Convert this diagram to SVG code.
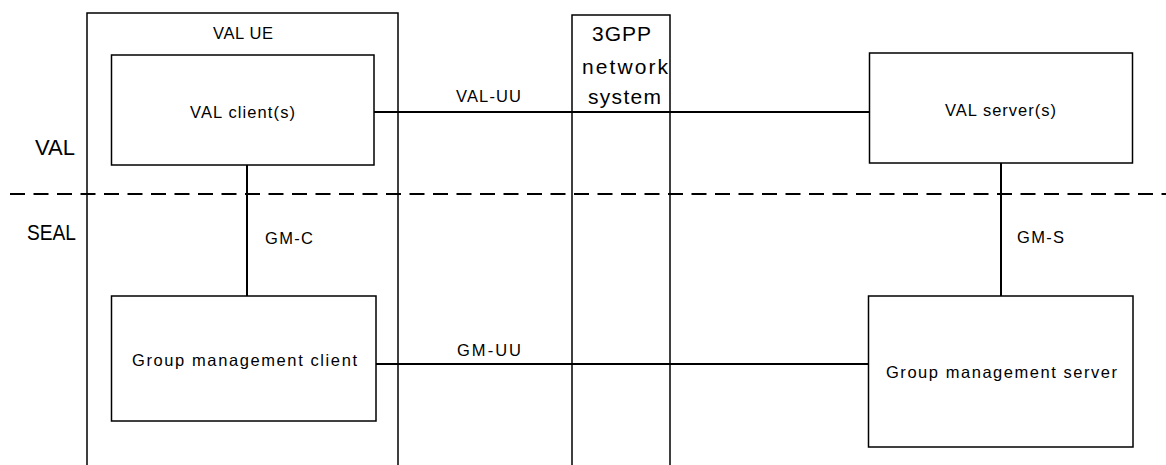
<svg xmlns="http://www.w3.org/2000/svg" width="1166" height="465" viewBox="0 0 1166 465">
<style>
.box{fill:#fff;stroke:#000;stroke-width:1.5}
.frame{fill:none;stroke:#000;stroke-width:1.5}
.conn{fill:none;stroke:#000;stroke-width:2}
.dash{fill:none;stroke:#000;stroke-width:2;stroke-dasharray:15 8.5}
text{font-family:"Liberation Sans",Arial,sans-serif;fill:#000}
.t{font-size:16.5px}
.big{font-size:22px}
.net{font-size:21px}
</style>
<rect width="1166" height="465" fill="#fff"/>
<g id="divider">
<line class="dash" x1="10" y1="194" x2="1166" y2="194"/>
</g>
<g id="layer-labels">
<text class="big" x="35" y="155" textLength="40" lengthAdjust="spacingAndGlyphs">VAL</text>
<text class="big" x="27" y="240" textLength="49" lengthAdjust="spacingAndGlyphs">SEAL</text>
</g>
<g id="node-val-ue">
<polyline class="frame" points="87,465 87,13 398,13 398,465"/>
<text class="t" x="213" y="39" textLength="60" lengthAdjust="spacing">VAL UE</text>
</g>
<g id="node-3gpp">
<polyline class="frame" points="572,465 572,15 670,15 670,465"/>
<text class="net" x="592" y="41" textLength="59" lengthAdjust="spacing">3GPP</text>
<text class="net" x="582" y="74" textLength="86" lengthAdjust="spacing">network</text>
<text class="net" x="588" y="104" textLength="73" lengthAdjust="spacing">system</text>
</g>
<g id="connectors">
<line class="conn" x1="374" y1="112" x2="870" y2="112"/>
<line class="conn" x1="376" y1="364" x2="868" y2="364"/>
<line class="conn" x1="247" y1="165" x2="247" y2="296"/>
<line class="conn" x1="1001" y1="163" x2="1001" y2="296"/>
<text class="t" x="456" y="102" textLength="65" lengthAdjust="spacing">VAL-UU</text>
<text class="t" x="457" y="356" textLength="64" lengthAdjust="spacing">GM-UU</text>
<text class="t" x="265" y="244" textLength="48" lengthAdjust="spacing">GM-C</text>
<text class="t" x="1017" y="243" textLength="47" lengthAdjust="spacing">GM-S</text>
</g>
<g id="node-val-client">
<rect class="box" x="111.5" y="55" width="262.5" height="110"/>
<text class="t" x="190" y="118" textLength="105" lengthAdjust="spacing">VAL client(s)</text>
</g>
<g id="node-val-server">
<rect class="box" x="869.5" y="53" width="263" height="110"/>
<text class="t" x="945" y="116" textLength="111" lengthAdjust="spacing">VAL server(s)</text>
</g>
<g id="node-gm-client">
<rect class="box" x="111.5" y="296" width="264.5" height="125"/>
<text class="t" x="132" y="366" textLength="225" lengthAdjust="spacing">Group management client</text>
</g>
<g id="node-gm-server">
<rect class="box" x="868.5" y="296" width="264.5" height="151"/>
<text class="t" x="886" y="378" textLength="231" lengthAdjust="spacing">Group management server</text>
</g>
</svg>
